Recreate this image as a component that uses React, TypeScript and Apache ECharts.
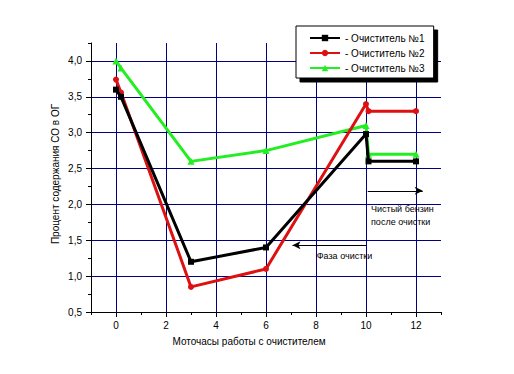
import React, { useEffect, useRef } from "react";
import * as echarts from "echarts";

// ---- data ----
const hours = [0, 0.2, 3, 6, 10, 10.1, 12];
const cleaner1 = [3.6, 3.5, 1.2, 1.4, 2.98, 2.6, 2.6];
const cleaner2 = [3.74, 3.56, 0.85, 1.1, 3.4, 3.3, 3.3];
const cleaner3 = [4.0, 3.9, 2.6, 2.75, 3.1, 2.7, 2.7];
const seriesNames = ["Очиститель №1", "Очиститель №2", "Очиститель №3"];

const xMajorTicks = [0, 2, 4, 6, 8, 10, 12];
const xMinorTicks = [-1, 1, 3, 5, 7, 9, 11, 13];
const yMajorTicks = [0.5, 1.0, 1.5, 2.0, 2.5, 3.0, 3.5, 4.0];
const yMinorTicks = [0.75, 1.25, 1.75, 2.25, 2.75, 3.25, 3.75, 4.25];

const xTitle = "Моточасы работы с очистителем";
const yTitle = "Процент содержания СО в ОГ";

// annotation arrows (data coordinates)
const arrowPhase = [[10, 1.43], [7.06, 1.43]];
const arrowClean = [[10.07, 2.19], [12.27, 2.19]];
// annotation texts (anchor at left / vertical middle, data coordinates)
const noteTexts = ["Фаза очистки", "Чистый бензин", "после очистки"];
const noteAnchors = [[8.03, 1.28], [10.2, 1.93], [10.2, 1.76]];

const FONT = "Arial, 'Liberation Sans', sans-serif";
const GRID_COLOR = "#000080";

export default function App() {
  const ref = useRef<HTMLDivElement>(null);
  useEffect(() => {
    if (!ref.current) return;
    const chart = echarts.init(ref.current, undefined, { renderer: "svg" });
    const colors = ["#000000", "#dd1111", "#22ee22"];
    const symbols = ["rect", "circle", "triangle"];
    const sizes = [6, 6, 7];
    const values = [cleaner1, cleaner2, cleaner3];

    const series: any[] = values.map((vals, i) => ({
      name: seriesNames[i],
      type: "line",
      xAxisIndex: 0,
      yAxisIndex: 0,
      data: hours.map((h, k) => [h, vals[k]]),
      symbol: symbols[i],
      symbolSize: sizes[i],
      showSymbol: true,
      color: colors[i],
      lineStyle: { color: colors[i], width: 3 },
      itemStyle: { color: colors[i] },
      z: 3 + (2 - i),
    }));
    series[0].markLine = {
      silent: true,
      symbol: ["none", "arrow"],
      symbolSize: [6, 8],
      label: { show: false },
      lineStyle: { color: "#000", width: 1, type: "solid" },
      data: [
        [{ coord: arrowPhase[0] }, { coord: arrowPhase[1] }],
        [{ coord: arrowClean[0] }, { coord: arrowClean[1] }],
      ],
    };

    const axisText = { color: "#000", fontSize: 10, fontFamily: FONT };

    const option: any = {
      animation: false,
      backgroundColor: "#fff",
      grid: { left: 91, right: 73, top: 43, bottom: 62, containLabel: false },
      xAxis: [
        {
          type: "value",
          min: -1,
          max: 13,
          position: "bottom",
          axisLine: { show: true, onZero: false, lineStyle: { color: "#000", width: 1 } },
          axisTick: { show: true, length: 5, customValues: xMajorTicks, lineStyle: { color: "#000" } },
          axisLabel: { customValues: xMajorTicks, margin: 8, ...axisText },
          splitLine: { show: true, lineStyle: { color: GRID_COLOR, width: 1 } },
        },
        {
          type: "value",
          min: -1,
          max: 13,
          position: "bottom",
          axisLine: { show: false, onZero: false },
          axisTick: { show: true, length: 3, customValues: xMinorTicks, lineStyle: { color: "#000" } },
          axisLabel: { show: false },
          splitLine: { show: false },
        },
      ],
      yAxis: [
        {
          type: "value",
          min: 0.5,
          max: 4.25,
          position: "left",
          axisLine: { show: true, onZero: false, lineStyle: { color: "#000", width: 1 } },
          axisTick: { show: true, length: 5, customValues: yMajorTicks, lineStyle: { color: "#000" } },
          axisLabel: {
            customValues: yMajorTicks,
            margin: 9,
            formatter: (v: number) => v.toFixed(1).replace(".", ","),
            ...axisText,
          },
          splitLine: { show: true, lineStyle: { color: GRID_COLOR, width: 1 } },
        },
        {
          type: "value",
          min: 0.5,
          max: 4.25,
          position: "left",
          axisLine: { show: false, onZero: false },
          axisTick: { show: true, length: 3, customValues: yMinorTicks, lineStyle: { color: "#000" } },
          axisLabel: { show: false },
          splitLine: { show: false },
        },
      ],
      legend: {
        data: seriesNames,
        orient: "vertical",
        left: 296,
        top: 26,
        padding: [7, 9, 5, 13],
        itemWidth: 30,
        itemHeight: 8,
        itemGap: 5,
        formatter: "- {name}",
        backgroundColor: "#fff",
        borderColor: "#000",
        borderWidth: 1,
        shadowColor: "#000",
        shadowBlur: 0,
        shadowOffsetX: 4,
        shadowOffsetY: 4,
        textStyle: { color: "#000", fontSize: 10, fontFamily: FONT },
        selectedMode: false,
      },
      series,
    };
    chart.setOption(option);

    const texts = noteTexts.map((t, i) => {
      const p = chart.convertToPixel({ gridIndex: 0 }, noteAnchors[i]) as number[];
      return {
        type: "text",
        x: p[0],
        y: p[1],
        style: { text: t, fill: "#000", font: `9px ${FONT}`, textAlign: "left", textVerticalAlign: "middle" },
        z: 10,
      };
    });
    chart.setOption({
      graphic: [
        ...texts,
        {
          type: "text",
          x: 172.5,
          y: 341,
          style: { text: xTitle, fill: "#000", font: `10px ${FONT}`, textAlign: "left", textVerticalAlign: "middle" },
        },
        {
          type: "text",
          x: 55,
          y: 174,
          rotation: Math.PI / 2,
          style: { text: yTitle, fill: "#000", font: `10px ${FONT}`, textAlign: "center", textVerticalAlign: "middle" },
        },
      ],
    });

    return () => chart.dispose();
  }, []);
  return (
    <div
      ref={ref}
      style={{ position: "fixed", left: 0, top: 0, width: 514, height: 374, background: "#fff" }}
    />
  );
}
